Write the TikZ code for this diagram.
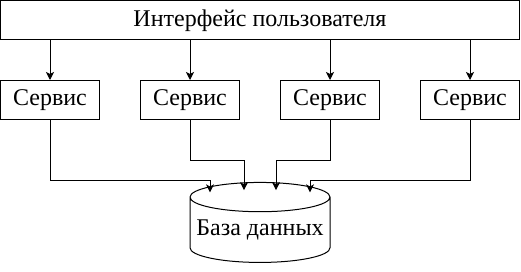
\documentclass[tikz,border=0pt]{standalone}
\usepackage{fontspec}
\setmainfont{Liberation Serif}
\usetikzlibrary{arrows.meta,shapes.geometric}
\tikzstyle{block} = [draw=black, rectangle, line width=1pt, inner sep=0pt, minimum height=39pt, font=\rmfamily\fontsize{24}{28}\selectfont]
\tikzstyle{service} = [block, minimum width=99pt]
\tikzstyle{store} = [draw=black, line width=1pt, cylinder, shape border rotate=90, aspect=0.23, inner sep=0pt, outer sep=0pt, minimum width=140pt, minimum height=80pt, font=\rmfamily\fontsize{24}{28}\selectfont]
\tikzstyle{arr} = [line width=1pt, -{Stealth[length=8pt,width=8pt,inset=2pt]}]

\begin{document}
\begin{tikzpicture}[x=1pt,y=1pt]
\useasboundingbox (0,0) rectangle (521,271);
\node [block, minimum width=519pt] (ui) at (260,250.5) {Интерфейс пользователя};
\node [service] (s1) at (50,171) {Сервис};
\node [service] (s2) at (190,171) {Сервис};
\node [service] (s3) at (330,171) {Сервис};
\node [service] (s4) at (470,171) {Сервис};
% label sits below the top cap
\node [store] (db) at (260,41) {\raisebox{-9.5pt}{База данных}};

\coordinate (in1) at ([shift={(-50pt,37.6pt)}]db.center);
\coordinate (in2) at ([shift={(-16pt,39.8pt)}]db.center);
\coordinate (in3) at ([shift={(16pt,39.8pt)}]db.center);
\coordinate (in4) at ([shift={(50pt,37.6pt)}]db.center);

\foreach \s in {s1,s2,s3,s4}
    \draw [arr] (\s |- ui.south) -- (\s.north);

\draw [arr] (s1.south) -- ++(0,-60) -| (in1);
\draw [arr] (s2.south) -- ++(0,-40) -| (in2);
\draw [arr] (s3.south) -- ++(0,-40) -| (in3);
\draw [arr] (s4.south) -- ++(0,-60) -| (in4);
\end{tikzpicture}
\end{document}
